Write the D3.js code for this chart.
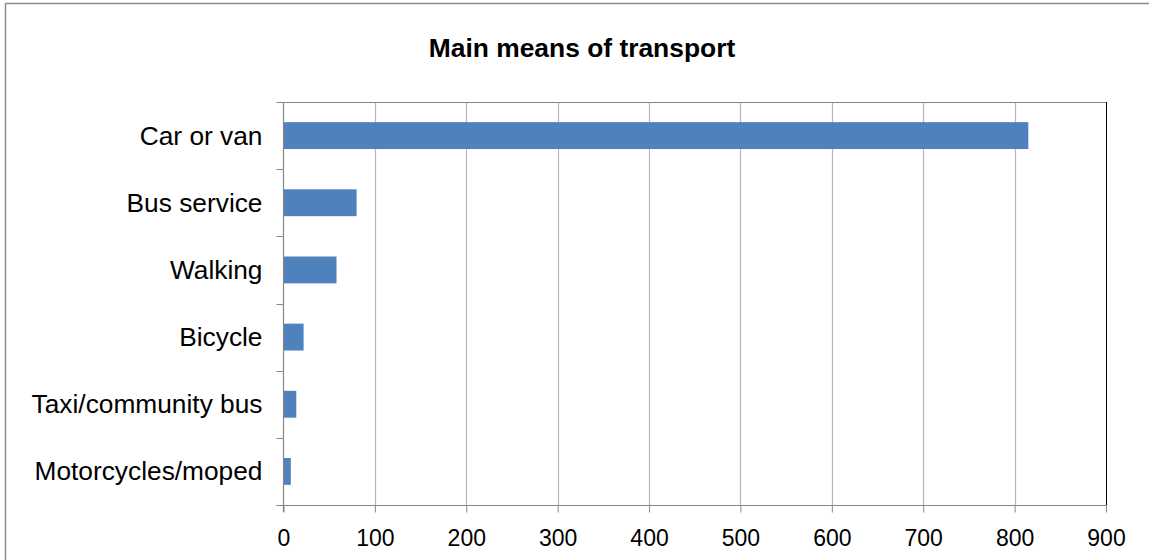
<!DOCTYPE html>
<html>
<head>
<meta charset="utf-8">
<script src="https://cdn.jsdelivr.net/npm/d3@7"></script>
<style>
  html, body { margin: 0; padding: 0; background: #fff; }
  svg { display: block; }
  text { font-family: "Liberation Sans", Arial, sans-serif; fill: #000; }
</style>
</head>
<body>
<svg id="chart" width="1149" height="560"></svg>
<script>
const title = "Main means of transport";
const categories = ["Car or van", "Bus service", "Walking", "Bicycle", "Taxi/community bus", "Motorcycles/moped"];
const values = [815, 80, 58, 22, 14, 8];
const xTicks = [0, 100, 200, 300, 400, 500, 600, 700, 800, 900];

const svg = d3.select("#chart");
const W = 1149, H = 560;
const plot = { left: 283.5, right: 1106, top: 102, bottom: 505 };

// outer chart border
svg.append("rect")
  .attr("x", 5.5).attr("y", 3.5)
  .attr("width", W + 10).attr("height", H + 10)
  .attr("fill", "#fff").attr("stroke", "#8c8c8c").attr("stroke-width", 1.5);

const x = d3.scaleLinear().domain([0, 900]).range([plot.left, plot.right]);
const y = d3.scaleBand().domain(categories).range([plot.top, plot.bottom])
  .paddingInner(0.6).paddingOuter(0.3);

// gridlines
svg.append("g").selectAll("line")
  .data(xTicks.filter(d => d > 0 && d < 900))
  .join("line")
  .attr("x1", d => Math.round(x(d)) + 0.5).attr("x2", d => Math.round(x(d)) + 0.5)
  .attr("y1", plot.top).attr("y2", plot.bottom)
  .attr("stroke", "#b8b8b8").attr("stroke-width", 1.2);

// plot area border top/right
svg.append("line")
  .attr("x1", plot.left).attr("x2", plot.right)
  .attr("y1", plot.top + 0.5).attr("y2", plot.top + 0.5)
  .attr("stroke", "#868686").attr("stroke-width", 1.2);
svg.append("line")
  .attr("x1", plot.right + 0.5).attr("x2", plot.right + 0.5)
  .attr("y1", plot.top).attr("y2", plot.bottom)
  .attr("stroke", "#000").attr("stroke-width", 1);

// bars
svg.append("g").selectAll("rect")
  .data(categories)
  .join("rect")
  .attr("x", x(0))
  .attr("y", d => y(d))
  .attr("width", (d, i) => x(values[i]) - x(0))
  .attr("height", y.bandwidth())
  .attr("fill", "#4f81bd");

// x axis
const xAxis = d3.axisBottom(x).tickValues(xTicks).tickSize(7).tickPadding(17).tickFormat(d3.format("d"));
const gx = svg.append("g").attr("transform", `translate(0,${plot.bottom + 0.5})`).call(xAxis);
gx.select(".domain").attr("stroke", "#868686").attr("d", `M${plot.left - 7},0H${plot.right + 0.5}`);
gx.selectAll(".tick line").attr("stroke", "#868686");
gx.selectAll(".tick text")
  .attr("font-size", "23px")
  .attr("font-family", "'Liberation Sans', Arial, sans-serif")
  .attr("fill", "#000");

// y axis
const gy = svg.append("g").attr("transform", `translate(${plot.left},0)`);
gy.append("line")
  .attr("x1", 0).attr("x2", 0).attr("y1", plot.top).attr("y2", plot.bottom + 7)
  .attr("stroke", "#868686").attr("stroke-width", 1.2);
const step = y.step();
const boundaries = d3.range(categories.length + 1).map(i => plot.top + i * step);
gy.selectAll("line.tk")
  .data(boundaries)
  .join("line").attr("class", "tk")
  .attr("x1", -7).attr("x2", 0)
  .attr("y1", d => Math.round(d) + 0.5).attr("y2", d => Math.round(d) + 0.5)
  .attr("stroke", "#868686");
gy.selectAll("text")
  .data(categories)
  .join("text")
  .attr("x", -21)
  .attr("y", d => y(d) + y.bandwidth() / 2)
  .attr("dy", "0.34em")
  .attr("text-anchor", "end")
  .attr("font-size", "26.3px")
  .text(d => d);

// title
svg.append("text")
  .attr("x", 582).attr("y", 56.5)
  .attr("text-anchor", "middle")
  .attr("font-size", "26.4px")
  .attr("font-weight", "bold")
  .text(title);
</script>
</body>
</html>
